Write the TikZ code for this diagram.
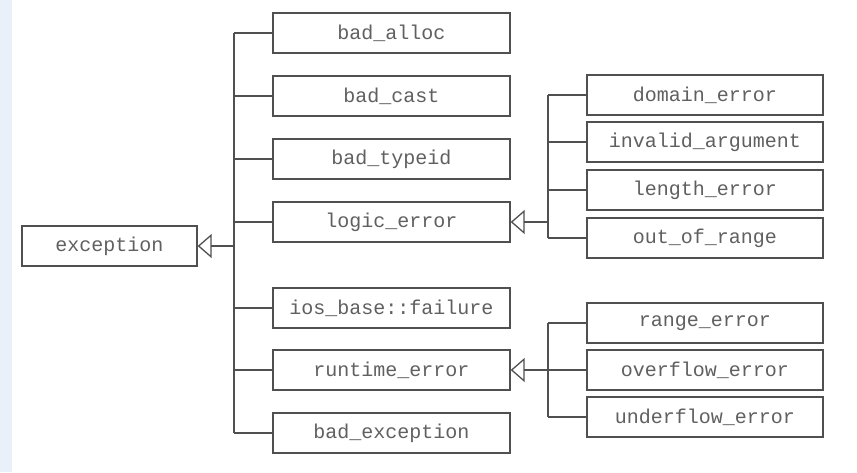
\documentclass[tikz,border=0pt]{standalone}
\usepackage{fontspec}
\setmonofont{Liberation Mono}
\usetikzlibrary{arrows.meta}
\definecolor{ink}{HTML}{505050}
\definecolor{txt}{HTML}{606060}
\definecolor{strip}{HTML}{EAF0FA}
\begin{document}
\begin{tikzpicture}[x=1pt,y=-1pt,
  cls/.style={draw=ink, line width=1.3pt, rectangle, minimum height=40pt,
    inner sep=0pt, font=\ttfamily\fontsize{20}{22}\selectfont, text=txt},
  mid/.style={cls, minimum width=237pt},
  rgt/.style={cls, minimum width=236pt},
  conn/.style={draw=ink, line width=1.3pt},
  inh/.style={conn, -{Triangle[open, length=14pt, width=24pt, line width=1.3pt]}}]
\useasboundingbox (0,0) rectangle (857,472);
\fill[white] (0,0) rectangle (857,472);
\fill[strip] (0,0) rectangle (12,472);

\node[cls, minimum width=175pt] (exc) at (109.5,246) {exception};

\node[mid] (balloc) at (391.5,33) {bad\_alloc};
\node[mid] (bcast)  at (391.5,96) {bad\_cast};
\node[mid] (btype)  at (391.5,159) {bad\_typeid};
\node[mid] (logic)  at (391.5,222) {logic\_error};
\node[mid] (ios)    at (391.5,308) {ios\_base::failure};
\node[mid] (rt)     at (391.5,370) {runtime\_error};
\node[mid] (bexc)   at (391.5,433) {bad\_exception};

\node[rgt] (dom) at (705,95) {domain\_error};
\node[rgt] (inv) at (705,142) {invalid\_argument};
\node[rgt] (len) at (705,190) {length\_error};
\node[rgt] (oor) at (705,238) {out\_of\_range};

\node[rgt] (rng) at (705,323) {range\_error};
\node[rgt] (ovf) at (705,370) {overflow\_error};
\node[rgt] (unf) at (705,417) {underflow\_error};

\coordinate (T) at (234,0);
\coordinate (L) at (548,0);

% main trunk
\draw[conn] (balloc.west -| T) -- (bexc.west -| T);
\draw[inh] (exc.east -| T) -- (exc.east);
\foreach \n in {balloc,bcast,btype,logic,ios,rt,bexc}
  \draw[conn] (\n.west -| T) -- (\n.west);

% logic_error subtree
\draw[conn] (dom.west -| L) -- (oor.west -| L);
\draw[inh] (logic.east -| L) -- (logic.east);
\foreach \n in {dom,inv,len,oor}
  \draw[conn] (\n.west -| L) -- (\n.west);

% runtime_error subtree
\draw[conn] (rng.west -| L) -- (unf.west -| L);
\draw[inh] (ovf.west) -- (rt.east);
\foreach \n in {rng,unf}
  \draw[conn] (\n.west -| L) -- (\n.west);
\end{tikzpicture}
\end{document}
